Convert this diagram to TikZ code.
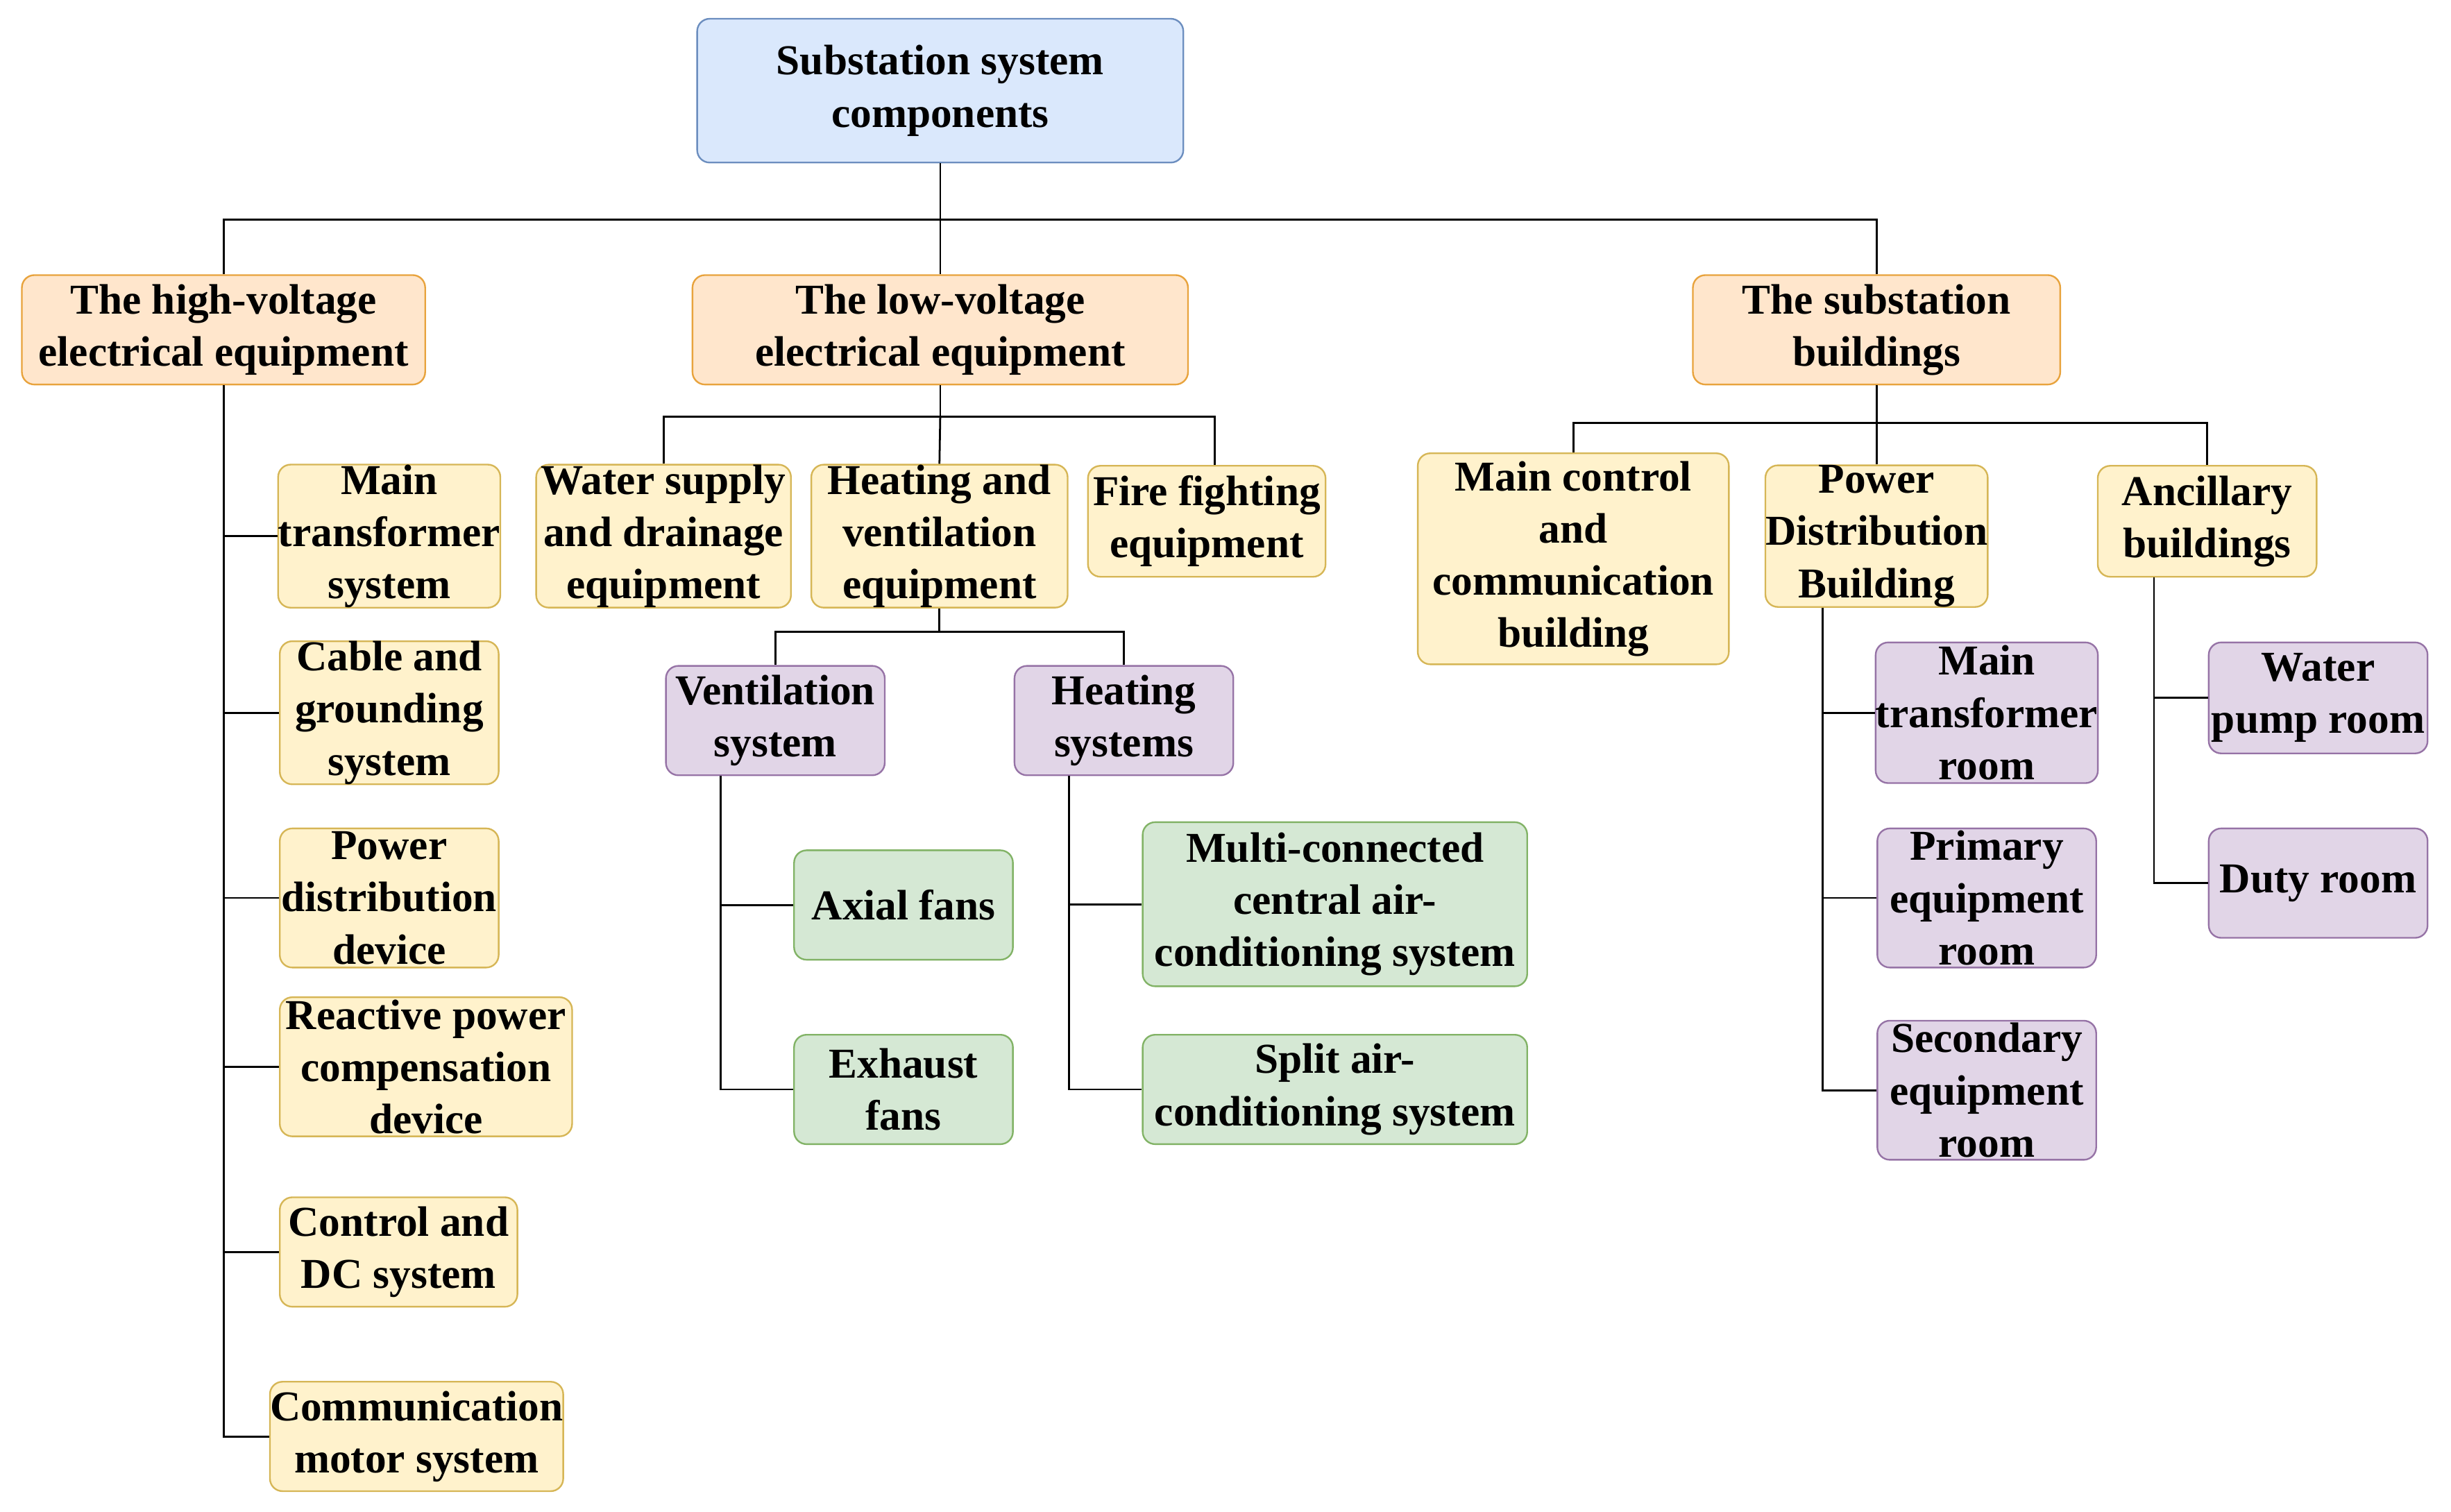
\documentclass[tikz,border=0pt]{standalone}
\usepackage{fontspec}
\setmainfont{Liberation Serif}
\usetikzlibrary{calc}
\definecolor{bF}{HTML}{DAE8FC}\definecolor{bD}{HTML}{6C8EBF}
\definecolor{oF}{HTML}{FFE6CC}\definecolor{oD}{HTML}{E8A33D}
\definecolor{yF}{HTML}{FFF2CC}\definecolor{yD}{HTML}{D6B656}
\definecolor{pF}{HTML}{E1D5E7}\definecolor{pD}{HTML}{9673A6}
\definecolor{gF}{HTML}{D5E8D4}\definecolor{gD}{HTML}{82B366}
\tikzset{
 box/.style={draw,rounded corners=0.16cm,line width=0.6pt,inner sep=0pt,align=center,
   font=\fontsize{15.5}{19}\selectfont\bfseries},
 blu/.style={box,fill=bF,draw=bD},
 ora/.style={box,fill=oF,draw=oD},
 yel/.style={box,fill=yF,draw=yD},
 pur/.style={box,fill=pF,draw=pD},
 gre/.style={box,fill=gF,draw=gD},
 ln/.style={line width=0.7pt,black}
}
\newcommand\bx[7]{\node[#6,minimum width={(#4-#2)*0.02cm},minimum height={(#5-#3)*0.02cm}] (#1) at ({(#2+#4)/2},{(#3+#5)/2}) {#7};}
\begin{document}
\begin{tikzpicture}[x=0.02cm,y=-0.02cm]
\useasboundingbox (0,0) rectangle (1568,967);
\bx{root}{446}{12}{757}{104}{blu}{Substation system\\components}
\bx{hv}{14}{176}{272}{246}{ora}{The high-voltage\\electrical equipment}
\bx{lv}{443}{176}{760}{246}{ora}{The low-voltage\\electrical equipment}
\bx{sb}{1083}{176}{1318}{246}{ora}{The substation\\buildings}
% high voltage children
\bx{mts}{179}{298}{319}{388}{yel}{Main\\transformer\\system}
\bx{cgs}{179}{411}{319}{501}{yel}{Cable and\\grounding\\system}
\bx{pdd}{179}{530}{319}{619}{yel}{Power\\distribution\\device}
\bx{rpc}{179}{638}{366}{727}{yel}{Reactive power\\compensation\\device}
\bx{cdc}{179}{766}{331}{836}{yel}{Control and\\DC system}
\bx{cms}{179}{884}{354}{954}{yel}{Communication\\motor system}
% low voltage children
\bx{ws}{343}{298}{506}{388}{yel}{Water supply\\and drainage\\equipment}
\bx{hve}{519}{298}{683}{388}{yel}{Heating and\\ventilation\\equipment}
\bx{ff}{696}{298}{848}{369}{yel}{Fire fighting\\equipment}
\bx{vs}{426}{426}{566}{496}{pur}{Ventilation\\system}
\bx{hs}{649}{426}{789}{496}{pur}{Heating\\systems}
\bx{ax}{508}{544}{648}{614}{gre}{Axial fans}
\bx{ex}{508}{662}{648}{732}{gre}{Exhaust\\fans}
\bx{mc}{731}{526}{977}{631}{gre}{Multi-connected\\central air-\\conditioning system}
\bx{sp}{731}{662}{977}{732}{gre}{Split air-\\conditioning system}
% buildings
\bx{mcb}{907}{290}{1106}{425}{yel}{Main control\\and\\communication\\building}
\bx{pdb}{1130}{298}{1271}{388}{yel}{Power\\Distribution\\Building}
\bx{anc}{1342}{298}{1482}{369}{yel}{Ancillary\\buildings}
\bx{mtr}{1201}{411}{1341}{501}{pur}{Main\\transformer\\room}
\bx{per}{1201}{530}{1341}{619}{pur}{Primary\\equipment\\room}
\bx{ser}{1201}{653}{1341}{742}{pur}{Secondary\\equipment\\room}
\bx{wpr}{1413}{411}{1553}{482}{pur}{Water\\pump room}
\bx{dr}{1413}{530}{1553}{600}{pur}{Duty room}
% connectors
\draw[ln] (root.south) -- ++(0,36) coordinate (b0);
\draw[ln] (hv.north) |- (b0);
\draw[ln] (sb.north) |- (b0);
\draw[ln] (lv.north) -- (b0);
\foreach \c in {mts,cgs,pdd,rpc,cdc,cms} \draw[ln] (hv.south) |- (\c.west);
\draw[ln] (lv.south) -- ++(0,20) coordinate (b1);
\draw[ln] (ws.north) |- (b1);
\draw[ln] ($(ff.north)+(5,0)$) |- (b1);
\draw[ln] (hve.north) -- (b1);
\draw[ln] (hve.south) -- ++(0,15) coordinate (b2);
\draw[ln] (vs.north) |- (b2);
\draw[ln] (hs.north) |- (b2);
\foreach \c in {ax,ex} \draw[ln] ($(vs.south)+(-35,0)$) |- (\c.west);
\draw[ln] ($(hs.south)+(-35,0)$) |- (mc.west);
\draw[ln] ($(hs.south)+(-35,0)$) |- (sp.west);
\draw[ln] (sb.south) -- ++(0,24) coordinate (b3);
\draw[ln] (mcb.north) |- (b3);
\draw[ln] (anc.north) |- (b3);
\draw[ln] (pdb.north) -- (b3);
\foreach \c in {mtr,per,ser} \draw[ln] ($(pdb.south)+(-34.5,0)$) |- (\c.west);
\foreach \c in {wpr,dr} \draw[ln] ($(anc.south)+(-34,0)$) |- (\c.west);
\end{tikzpicture}
\end{document}
